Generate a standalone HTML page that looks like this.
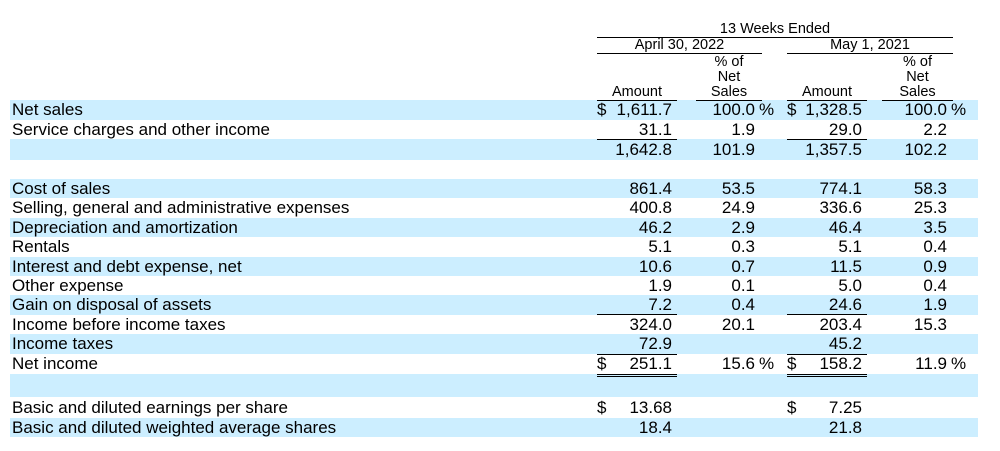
<!DOCTYPE html>
<html><head><meta charset="utf-8"><style>
body{margin:0;width:1000px;height:451px;background:#fff;position:relative;font-family:"Liberation Sans",Arial,sans-serif;color:#000;overflow:hidden}
.b{position:absolute;left:10px;width:968px;background:#cceeff}
.t{position:absolute;font-size:17px;line-height:19px;white-space:nowrap}
.r{position:absolute;font-size:17px;line-height:19px;white-space:nowrap;text-align:right}
.h{position:absolute;font-size:14.5px;line-height:15px;white-space:nowrap;text-align:center}
.l{position:absolute;height:1px;background:#000}
</style></head><body>
<div class="b" style="top:100px;height:20px"></div>
<div class="b" style="top:139px;height:21px"></div>
<div class="b" style="top:179px;height:19px"></div>
<div class="b" style="top:218px;height:19px"></div>
<div class="b" style="top:257px;height:19px"></div>
<div class="b" style="top:295px;height:20px"></div>
<div class="b" style="top:334px;height:20px"></div>
<div class="b" style="top:374px;height:23px"></div>
<div class="b" style="top:418px;height:19px"></div>

<div class="h" style="left:597px;width:356px;top:22px">13 Weeks Ended</div>
<div class="l" style="left:597px;width:356px;top:37px"></div>
<div class="h" style="left:597px;width:165px;top:38px">April 30, 2022</div>
<div class="h" style="left:787px;width:166px;top:38px">May 1, 2021</div>
<div class="l" style="left:597px;width:165px;top:53px"></div>
<div class="l" style="left:787px;width:166px;top:53px"></div>
<div class="h" style="left:696px;width:66px;top:55px">% of<br>Net<br>Sales</div>
<div class="h" style="left:882px;width:71px;top:55px">% of<br>Net<br>Sales</div>
<div class="h" style="left:597px;width:80px;top:85px">Amount</div>
<div class="h" style="left:787px;width:80px;top:85px">Amount</div>
<div class="l" style="left:597px;width:80px;top:100px"></div>
<div class="l" style="left:696px;width:66px;top:100px"></div>
<div class="l" style="left:787px;width:80px;top:100px"></div>
<div class="l" style="left:882px;width:71px;top:100px"></div>

<div class="t" style="left:12px;top:100px">Net sales</div>
<div class="t" style="left:12px;top:120px">Service charges and other income</div>
<div class="t" style="left:12px;top:179px">Cost of sales</div>
<div class="t" style="left:12px;top:198px">Selling, general and administrative expenses</div>
<div class="t" style="left:12px;top:218px">Depreciation and amortization</div>
<div class="t" style="left:12px;top:237px">Rentals</div>
<div class="t" style="left:12px;top:257px">Interest and debt expense, net</div>
<div class="t" style="left:12px;top:276px">Other expense</div>
<div class="t" style="left:12px;top:295px">Gain on disposal of assets</div>
<div class="t" style="left:12px;top:315px">Income before income taxes</div>
<div class="t" style="left:12px;top:334px">Income taxes</div>
<div class="t" style="left:12px;top:354px">Net income</div>
<div class="t" style="left:12px;top:398px">Basic and diluted earnings per share</div>
<div class="t" style="left:12px;top:418px">Basic and diluted weighted average shares</div>

<div class="t" style="left:597px;top:100px">$</div>
<div class="t" style="left:787px;top:100px">$</div>
<div class="t" style="left:597px;top:354px">$</div>
<div class="t" style="left:787px;top:354px">$</div>
<div class="t" style="left:597px;top:398px">$</div>
<div class="t" style="left:787px;top:398px">$</div>

<div class="r" style="right:328px;top:100px">1,611.7</div>
<div class="r" style="right:328px;top:120px">31.1</div>
<div class="r" style="right:328px;top:140px">1,642.8</div>
<div class="r" style="right:328px;top:179px">861.4</div>
<div class="r" style="right:328px;top:198px">400.8</div>
<div class="r" style="right:328px;top:218px">46.2</div>
<div class="r" style="right:328px;top:237px">5.1</div>
<div class="r" style="right:328px;top:257px">10.6</div>
<div class="r" style="right:328px;top:276px">1.9</div>
<div class="r" style="right:328px;top:295px">7.2</div>
<div class="r" style="right:328px;top:315px">324.0</div>
<div class="r" style="right:328px;top:334px">72.9</div>
<div class="r" style="right:328px;top:354px">251.1</div>
<div class="r" style="right:328px;top:398px">13.68</div>
<div class="r" style="right:328px;top:418px">18.4</div>

<div class="r" style="right:245px;top:100px">100.0</div>
<div class="t" style="left:759px;top:100px">%</div>
<div class="r" style="right:245px;top:120px">1.9</div>
<div class="r" style="right:245px;top:140px">101.9</div>
<div class="r" style="right:245px;top:179px">53.5</div>
<div class="r" style="right:245px;top:198px">24.9</div>
<div class="r" style="right:245px;top:218px">2.9</div>
<div class="r" style="right:245px;top:237px">0.3</div>
<div class="r" style="right:245px;top:257px">0.7</div>
<div class="r" style="right:245px;top:276px">0.1</div>
<div class="r" style="right:245px;top:295px">0.4</div>
<div class="r" style="right:245px;top:315px">20.1</div>
<div class="r" style="right:245px;top:354px">15.6</div>
<div class="t" style="left:759px;top:354px">%</div>

<div class="r" style="right:138px;top:100px">1,328.5</div>
<div class="r" style="right:138px;top:120px">29.0</div>
<div class="r" style="right:138px;top:140px">1,357.5</div>
<div class="r" style="right:138px;top:179px">774.1</div>
<div class="r" style="right:138px;top:198px">336.6</div>
<div class="r" style="right:138px;top:218px">46.4</div>
<div class="r" style="right:138px;top:237px">5.1</div>
<div class="r" style="right:138px;top:257px">11.5</div>
<div class="r" style="right:138px;top:276px">5.0</div>
<div class="r" style="right:138px;top:295px">24.6</div>
<div class="r" style="right:138px;top:315px">203.4</div>
<div class="r" style="right:138px;top:334px">45.2</div>
<div class="r" style="right:138px;top:354px">158.2</div>
<div class="r" style="right:138px;top:398px">7.25</div>
<div class="r" style="right:138px;top:418px">21.8</div>

<div class="r" style="right:53px;top:100px">100.0</div>
<div class="t" style="left:951px;top:100px">%</div>
<div class="r" style="right:53px;top:120px">2.2</div>
<div class="r" style="right:53px;top:140px">102.2</div>
<div class="r" style="right:53px;top:179px">58.3</div>
<div class="r" style="right:53px;top:198px">25.3</div>
<div class="r" style="right:53px;top:218px">3.5</div>
<div class="r" style="right:53px;top:237px">0.4</div>
<div class="r" style="right:53px;top:257px">0.9</div>
<div class="r" style="right:53px;top:276px">0.4</div>
<div class="r" style="right:53px;top:295px">1.9</div>
<div class="r" style="right:53px;top:315px">15.3</div>
<div class="r" style="right:53px;top:354px">11.9</div>
<div class="t" style="left:951px;top:354px">%</div>

<div class="l" style="left:597px;width:80px;top:139px"></div>
<div class="l" style="left:787px;width:80px;top:139px"></div>
<div class="l" style="left:597px;width:80px;top:314px"></div>
<div class="l" style="left:787px;width:80px;top:314px"></div>
<div class="l" style="left:597px;width:80px;top:354px"></div>
<div class="l" style="left:787px;width:80px;top:354px"></div>
<div class="l" style="left:597px;width:80px;top:374px"></div>
<div class="l" style="left:787px;width:80px;top:374px"></div>
<div class="l" style="left:597px;width:80px;top:376px"></div>
<div class="l" style="left:787px;width:80px;top:376px"></div>
</body></html>
